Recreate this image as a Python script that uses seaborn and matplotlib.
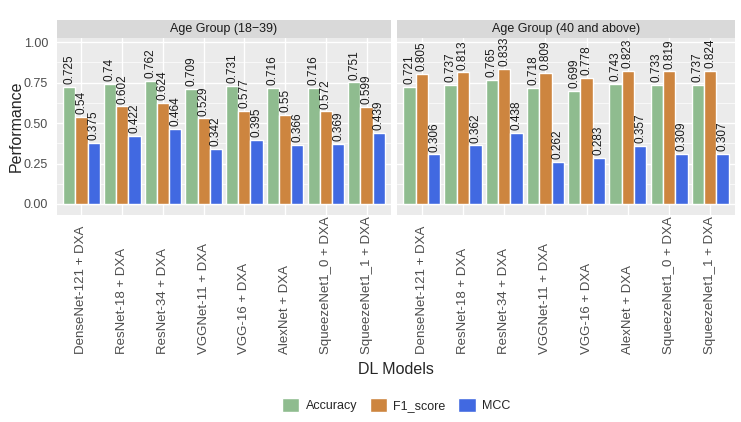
import numpy as np
import pandas as pd
import seaborn as sns
import matplotlib.pyplot as plt
from matplotlib.patches import Patch

models = ["DenseNet-121 + DXA", "ResNet-18 + DXA", "ResNet-34 + DXA", "VGGNet-11 + DXA",
          "VGG-16 + DXA", "AlexNet + DXA", "SqueezeNet1_0 + DXA", "SqueezeNet1_1 + DXA"]
metrics = ["Accuracy", "F1_score", "MCC"]
groups = ["Age Group (18\u221239)", "Age Group (40 and above)"]

acc_young = [0.725, 0.74, 0.762, 0.709, 0.731, 0.716, 0.716, 0.751]
f1_young = [0.54, 0.602, 0.624, 0.529, 0.577, 0.55, 0.572, 0.599]
mcc_young = [0.375, 0.422, 0.464, 0.342, 0.395, 0.366, 0.369, 0.439]

acc_old = [0.721, 0.737, 0.765, 0.718, 0.699, 0.743, 0.733, 0.737]
f1_old = [0.805, 0.813, 0.833, 0.809, 0.778, 0.823, 0.819, 0.824]
mcc_old = [0.306, 0.362, 0.438, 0.262, 0.283, 0.357, 0.309, 0.307]

palette = {"Accuracy": "#8FBC8F", "F1_score": "#CD853F", "MCC": "#4169E1"}

rows = []
for g, vals in zip(groups, [(acc_young, f1_young, mcc_young), (acc_old, f1_old, mcc_old)]):
    for m, series in zip(metrics, vals):
        for model, v in zip(models, series):
            rows.append({"group": g, "metric": m, "model": model, "value": v})
df = pd.DataFrame(rows)

sns.set_style("white")
plt.rcParams['font.family'] = ['Liberation Sans', 'DejaVu Sans']

fig = plt.figure(figsize=(7.41, 4.22), dpi=100)
top = 0.910
bottom = 0.4905
strip_h = 18 / 422
panels = [(57 / 741, 391 / 741), (397 / 741, 735 / 741)]

for i, (g, (x0, x1)) in enumerate(zip(groups, panels)):
    ax = fig.add_axes([x0, bottom, x1 - x0, top - bottom])
    ax.set_facecolor("#EBEBEB")
    sub = df[df["group"] == g]
    sns.barplot(data=sub, x="model", y="value", hue="metric", order=models,
                hue_order=metrics, palette=palette, width=0.9, gap=0,
                saturation=1, ax=ax, legend=False, zorder=3)
    for c in ax.containers:
        labels = [f"{v:g}" for v in c.datavalues]
        ax.bar_label(c, labels=labels, rotation=90, padding=2, fontsize=8.5,
                     color="#1A1A1A")
    ax.set_xlim(-0.6, 7.6)
    ax.set_ylim(-0.068, 1.025)
    ax.set_yticks([0, 0.25, 0.5, 0.75, 1.0])
    ax.set_yticks([0.125, 0.375, 0.625, 0.875], minor=True)
    ax.grid(True, which="major", color="white", linewidth=1.0, zorder=0)
    ax.grid(True, which="minor", axis="y", color="white", linewidth=0.5, zorder=0)
    ax.set_axisbelow(True)
    for s in ax.spines.values():
        s.set_visible(False)
    ax.tick_params(axis="both", which="major", length=3, color="#333333",
                   labelcolor="#4D4D4D", labelsize=9, direction="out")
    ax.tick_params(axis="x", pad=97)
    ax.tick_params(axis="y", which="minor", length=0)
    ax.set_xticks(range(len(models)))
    ax.set_xticklabels(models, rotation=90, va="bottom", fontsize=9.5)
    ax.set_xlabel("")
    ax.set_ylabel("")
    if i == 0:
        ax.set_yticklabels(["0.00", "0.25", "0.50", "0.75", "1.00"])
    else:
        ax.set_yticklabels([])
        ax.tick_params(axis="y", length=0)
    # strip
    sax = fig.add_axes([x0, top, x1 - x0, strip_h])
    sax.set_facecolor("#D9D9D9")
    sax.set_xticks([])
    sax.set_yticks([])
    for s in sax.spines.values():
        s.set_visible(False)
    sax.text(0.5, 0.5, g, ha="center", va="center", fontsize=9, color="#1A1A1A",
             transform=sax.transAxes)

fig.text(0.022, (top + bottom) / 2, "Performance", rotation=90, ha="center",
         va="center", fontsize=11.5)
fig.text((57 + 735) / 2 / 741, 1 - 370 / 422, "DL Models", ha="center",
         va="center", fontsize=11.5)

handles = [Patch(facecolor=palette[m], label=m) for m in metrics]
fig.legend(handles=handles, loc="center", bbox_to_anchor=(396 / 741, 1 - 405 / 422),
           ncol=3, frameon=False, fontsize=9, handlelength=1.4, handleheight=1.4,
           columnspacing=1.0, handletextpad=0.5)

fig.savefig("out.png", dpi=100, facecolor="white")
